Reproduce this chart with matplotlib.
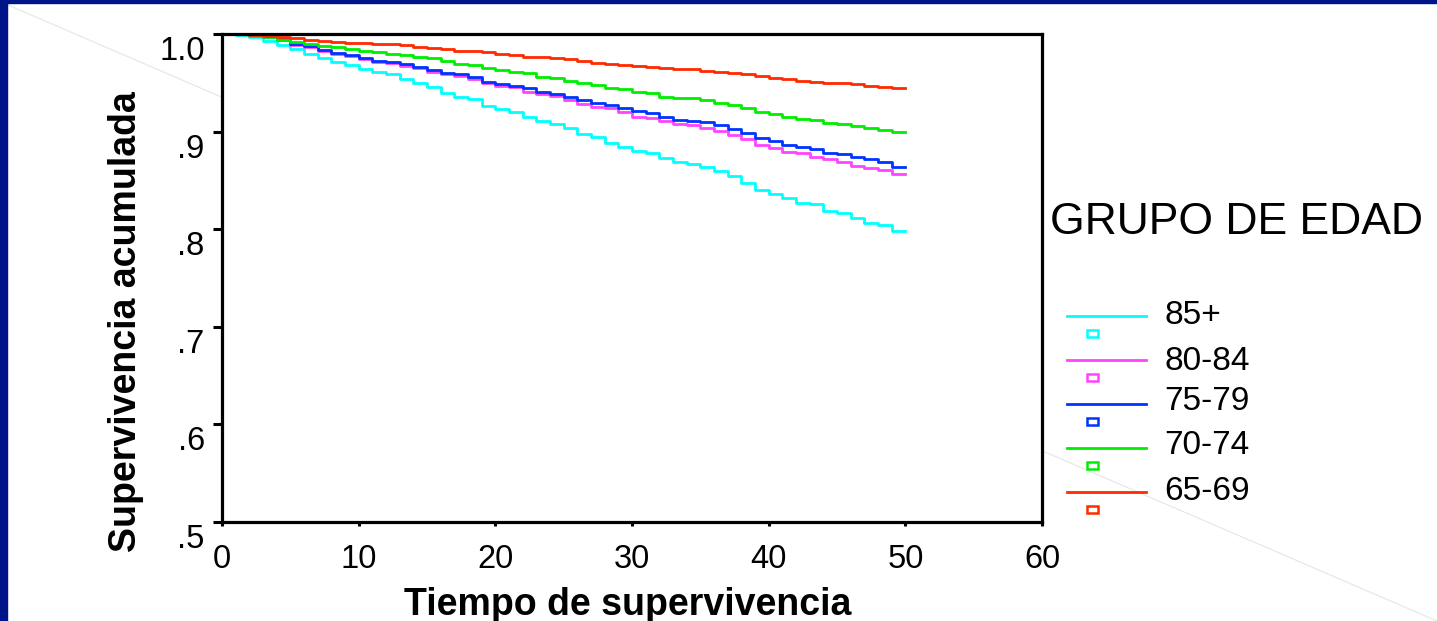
import numpy as np
import matplotlib
matplotlib.use("Agg")
import matplotlib.pyplot as plt
from matplotlib.lines import Line2D
from matplotlib.patches import Rectangle
from matplotlib.transforms import ScaledTranslation

plt.rcParams['font.family'] = ['Liberation Sans', 'DejaVu Sans']

# ---- data ----
time_points = list(range(0, 51))
groups = ["85+", "80-84", "75-79", "70-74", "65-69"]
colors = ["#00FFFF", "#FF44FF", "#0033FF", "#00EE00", "#FF2A00"]

surv_85 = [1.0, 0.999, 0.9966, 0.9932, 0.9887, 0.9843, 0.9795, 0.9754, 0.9716, 0.9682,
           0.9641, 0.9614, 0.9587, 0.9536, 0.9495, 0.946, 0.940, 0.9358, 0.933, 0.926,
           0.9228, 0.9204, 0.9146, 0.9112, 0.9078, 0.9033, 0.8975, 0.894, 0.888, 0.884,
           0.8805, 0.8784, 0.8726, 0.8685, 0.8668, 0.864, 0.860, 0.8545, 0.847, 0.840,
           0.8357, 0.8316, 0.8272, 0.8258, 0.819, 0.8169, 0.8111, 0.806, 0.8043, 0.7985, 0.7985]
surv_80 = [1.0, 1.0, 0.999, 0.9973, 0.9939, 0.989, 0.9864, 0.9826, 0.980, 0.9775,
           0.974, 0.9713, 0.9706, 0.9672, 0.9648, 0.9614, 0.9587, 0.957, 0.9539, 0.9495,
           0.947, 0.9454, 0.9409, 0.9385, 0.9368, 0.9325, 0.928, 0.9255, 0.9239, 0.9204,
           0.9153, 0.9136, 0.9109, 0.9075, 0.9068, 0.904, 0.901, 0.8965, 0.8924, 0.8863,
           0.8829, 0.8794, 0.8778, 0.8743, 0.8716, 0.8692, 0.8648, 0.863, 0.8607, 0.8562, 0.8562]
surv_75 = [1.0, 1.0, 0.999, 0.998, 0.9945, 0.9898, 0.9877, 0.9836, 0.9809, 0.9785,
           0.975, 0.9723, 0.9716, 0.969, 0.9665, 0.9631, 0.9604, 0.9587, 0.9563, 0.9511,
           0.9488, 0.9467, 0.9443, 0.9402, 0.9385, 0.9358, 0.9324, 0.929, 0.9273, 0.9239,
           0.9211, 0.9187, 0.9146, 0.9119, 0.9109, 0.9095, 0.9068, 0.9023, 0.8989, 0.8938,
           0.8904, 0.8863, 0.8846, 0.8822, 0.8778, 0.8767, 0.8743, 0.8716, 0.8685, 0.864, 0.864]
surv_70 = [1.0, 1.0, 0.998, 0.9966, 0.9939, 0.9921, 0.9898, 0.988, 0.987, 0.9843,
           0.9829, 0.9819, 0.9795, 0.9785, 0.976, 0.975, 0.9727, 0.969, 0.9682, 0.9648,
           0.9631, 0.9614, 0.9597, 0.9563, 0.9546, 0.9515, 0.9501, 0.9477, 0.9443, 0.9433,
           0.9402, 0.9399, 0.9358, 0.9348, 0.9341, 0.9324, 0.9296, 0.9273, 0.9239, 0.9204,
           0.918, 0.9146, 0.9129, 0.9119, 0.9092, 0.9078, 0.9057, 0.9033, 0.9016, 0.8993, 0.8993]
surv_65 = [1.0, 1.0, 0.999, 0.998, 0.9966, 0.9956, 0.9939, 0.9932, 0.9921, 0.9911,
           0.9908, 0.9898, 0.9894, 0.9887, 0.987, 0.986, 0.9843, 0.9829, 0.9826, 0.9812,
           0.9795, 0.9785, 0.9768, 0.9761, 0.975, 0.9742, 0.9723, 0.9706, 0.9693, 0.9682,
           0.9672, 0.9665, 0.9655, 0.9641, 0.9638, 0.9624, 0.9614, 0.9597, 0.959, 0.9573,
           0.9546, 0.9536, 0.9522, 0.9511, 0.9501, 0.9495, 0.9485, 0.947, 0.946, 0.9443, 0.9443]
series = [surv_85, surv_80, surv_75, surv_70, surv_65]

x_ticks = [0, 10, 20, 30, 40, 50, 60]
y_ticks = [0.5, 0.6, 0.7, 0.8, 0.9, 1.0]
y_tick_labels = [".5", ".6", ".7", ".8", ".9", "1.0"]

W, H = 1437, 621
fig = plt.figure(figsize=(W / 100, H / 100), dpi=100)
fig.patch.set_facecolor("white")

def fx(px):
    return px / W

def fy(py):
    return 1 - py / H

# decorative background: faint diagonal line and dark-blue border strips
fig.add_artist(Line2D([fx(8), fx(1437)], [fy(5), fy(621)], color="#e6e6e6", lw=0.8, zorder=0))
fig.add_artist(Rectangle((0, 0), fx(7), 1, transform=fig.transFigure, color="#001489", zorder=0))
fig.add_artist(Rectangle((0, fy(3)), 1, fy(0) - fy(3), transform=fig.transFigure, color="#001489", zorder=0))

ax = fig.add_axes([fx(222), fy(522), fx(1042) - fx(222), fy(34) - fy(522)])
ax.set_facecolor("white")
ax.set_zorder(1)

for vals, c in zip(series, colors):
    ax.plot(time_points, vals, drawstyle="steps-post", color=c, lw=2.0, clip_on=False)

ax.set_xlim(0, 60)
ax.set_ylim(0.5, 1.0)
ax.set_xticks(x_ticks)
ax.set_yticks(y_ticks)
ax.set_yticklabels(y_tick_labels)
for s in ax.spines.values():
    s.set_linewidth(2.3)
    s.set_color("black")
ax.tick_params(axis="y", direction="out", length=6.5, width=2.2, labelsize=23.5, pad=6)
ax.tick_params(axis="x", direction="out", length=3, width=2.2, labelsize=23.5, pad=13)

off = ScaledTranslation(0, -14 / 100, fig.dpi_scale_trans)
for lab in ax.get_yticklabels():
    lab.set_transform(lab.get_transform() + off)

fig.text(fx(628), fy(605), "Tiempo de supervivencia", fontsize=27, fontweight="bold",
         ha="center", va="center")
fig.text(fx(126), fy(322), "Supervivencia acumulada", fontsize=27, fontweight="bold",
         ha="center", va="center", rotation=90)

# legend
fig.text(fx(1050), fy(223), "GRUPO DE EDAD", fontsize=32, ha="left", va="center")
line_y = [316, 360, 404, 448, 492]
label_y = [315, 362, 402, 445, 491]
for g, c, ly, ty in zip(groups, colors, line_y, label_y):
    fig.add_artist(Line2D([fx(1067), fx(1146)], [fy(ly), fy(ly)], color=c, lw=2.0))
    fig.add_artist(Rectangle((fx(1087), fy(ly + 21)), fx(11), fy(ly + 14) - fy(ly + 21),
                             transform=fig.transFigure, fill=False, edgecolor=c, lw=1.8))
    fig.text(fx(1164), fy(ty), g, fontsize=24, ha="left", va="center")

fig.savefig("out.png", dpi=100, facecolor="white")
